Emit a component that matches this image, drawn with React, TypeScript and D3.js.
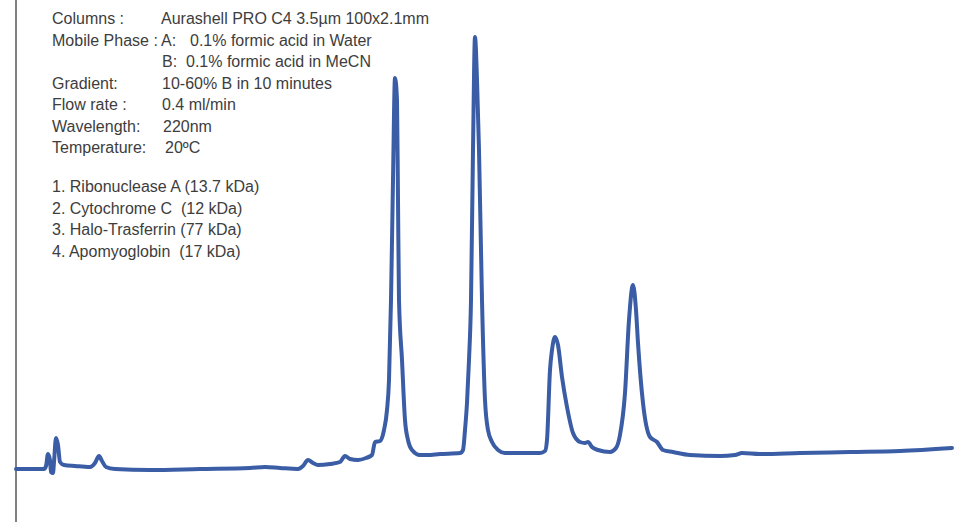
import React from "react";
import * as d3 from "d3";

// Chromatogram trace: retention time (min) and detector signal (mAU)
const times = [
  0, 0.175, 0.35, 0.375, 0.4, 0.425, 0.4375, 0.4625, 0.475, 0.5, 0.525, 0.55, 0.6, 0.7375, 0.925,
  0.9875, 1.0375, 1.075, 1.125, 1.2375, 1.675, 2.3, 2.925, 3.1125, 3.3, 3.525, 3.5875, 3.65, 3.7125,
  3.775, 3.925, 4.05, 4.1125, 4.175, 4.275, 4.375, 4.45, 4.4875, 4.55, 4.6, 4.6375, 4.6625, 4.6875,
  4.7125, 4.7375, 4.7625, 4.775, 4.7875, 4.825, 4.8625, 4.9, 4.95, 5.05, 5.1375, 5.3, 5.55, 5.5875,
  5.6125, 5.6375, 5.6625, 5.6875, 5.7125, 5.7375, 5.7625, 5.7875, 5.825, 5.8625, 5.9, 5.95, 6.025,
  6.1125, 6.3, 6.55, 6.6125, 6.6375, 6.675, 6.7, 6.7375, 6.775, 6.825, 6.8875, 6.9625, 7.05, 7.1125,
  7.15, 7.2, 7.275, 7.425, 7.5, 7.55, 7.6125, 7.6625, 7.7125, 7.75, 7.775, 7.8375, 7.925, 8.0125,
  8.0875, 8.2125, 8.425, 8.8, 8.9875, 9.075, 9.3, 9.8, 10.425, 11.05, 11.7,
];
const signal = [
  -0.25, -0.25, -0.25, 0.5, 3.5, 2, -1, -1.25, 1.5, 7.5, 5.75, 1.5, 0.75, 0.5, 0.25,
  1.25, 3, 1.75, 0.25, -0.25, -0.5, -0.25, 0, 0.25, 0, -0.25, 0.5, 2, 1.25,
  0.75, 1, 1.5, 3, 2.25, 2, 2.5, 3.25, 6.5, 6.75, 9.5, 14.5, 22, 42,
  72, 97.5, 92, 67, 42, 27, 12, 7, 4.5, 3.25, 3.25, 3.5, 3.75, 4.5,
  9.5, 16.25, 27, 42, 79.5, 107.75, 97, 79.5, 42, 17, 9.5, 6.5, 4.5,
  3.75, 3.75, 3.75, 4.25, 7, 24.5, 29.5, 32.75, 30.75, 22.75, 15.25, 8.75, 6.5, 6.25,
  6.5, 5.25, 4.5, 4, 5, 8.25, 18.75, 37, 45.75, 39.5, 31.25, 16.25, 7.75, 6.5,
  4.5, 4, 3.25, 3, 3.25, 3.75, 3.5, 3.75, 4, 4.25, 5,
];

const conditionLabels = [
  "Columns :",
  "Mobile Phase :",
  "",
  "Gradient:",
  "Flow rate :",
  "Wavelength:",
  "Temperature:",
];
const conditionPrefixes = ["", "A:", "B:", "", "", "", ""];
const conditionValues = [
  "Aurashell PRO C4 3.5µm 100x2.1mm",
  "0.1% formic acid in Water",
  "0.1% formic acid in MeCN",
  "10-60% B in 10 minutes",
  "0.4 ml/min",
  "220nm",
  "20ºC",
];
const peakNames = [
  "1. Ribonuclease A (13.7 kDa)",
  "2. Cytochrome C  (12 kDa)",
  "3. Halo-Trasferrin (77 kDa)",
  "4. Apomyoglobin  (17 kDa)",
];

const W = 958;
const H = 522;

export default function App() {
  const x = d3.scaleLinear().domain([0, 11.7]).range([16, 952]);
  const y = d3.scaleLinear().domain([-10, 120]).range([508, -12]);
  const pts = times.map((t, i) => [t, signal[i]] as [number, number]);
  const line = d3
    .line<[number, number]>()
    .x((d) => x(d[0]))
    .y((d) => y(d[1]))
    .curve(d3.curveMonotoneX);

  const font = "'Liberation Sans', Arial, Helvetica, sans-serif";
  const textColor = "#3d3d3d";
  const valueX = [161, 190, 186, 162, 162, 163, 165];
  const prefixX = [0, 161, 162, 0, 0, 0, 0];

  return (
    <svg
      width={W}
      height={H}
      style={{ position: "absolute", left: 0, top: 0, background: "#fff" }}
    >
      <line x1={16} x2={16} y1={0} y2={H} stroke="#555" strokeWidth={1.5} />
      <path
        d={line(pts) || ""}
        fill="none"
        stroke="#3a5da6"
        strokeWidth={4}
        strokeLinejoin="round"
        strokeLinecap="round"
      />
      <g fontFamily={font} fontSize={16} fill={textColor}>
        {conditionLabels.map((lab, i) => {
          const by = 24 + i * 21.5;
          return (
            <g key={i}>
              {lab && (
                <text x={52} y={by}>
                  {lab}
                </text>
              )}
              {conditionPrefixes[i] && (
                <text x={prefixX[i]} y={by}>
                  {conditionPrefixes[i]}
                </text>
              )}
              <text x={valueX[i]} y={by}>
                {conditionValues[i]}
              </text>
            </g>
          );
        })}
        {peakNames.map((n, i) => (
          <text key={n} x={52} y={192 + i * 21.5} style={{ whiteSpace: "pre" }}>
            {n}
          </text>
        ))}
      </g>
    </svg>
  );
}
